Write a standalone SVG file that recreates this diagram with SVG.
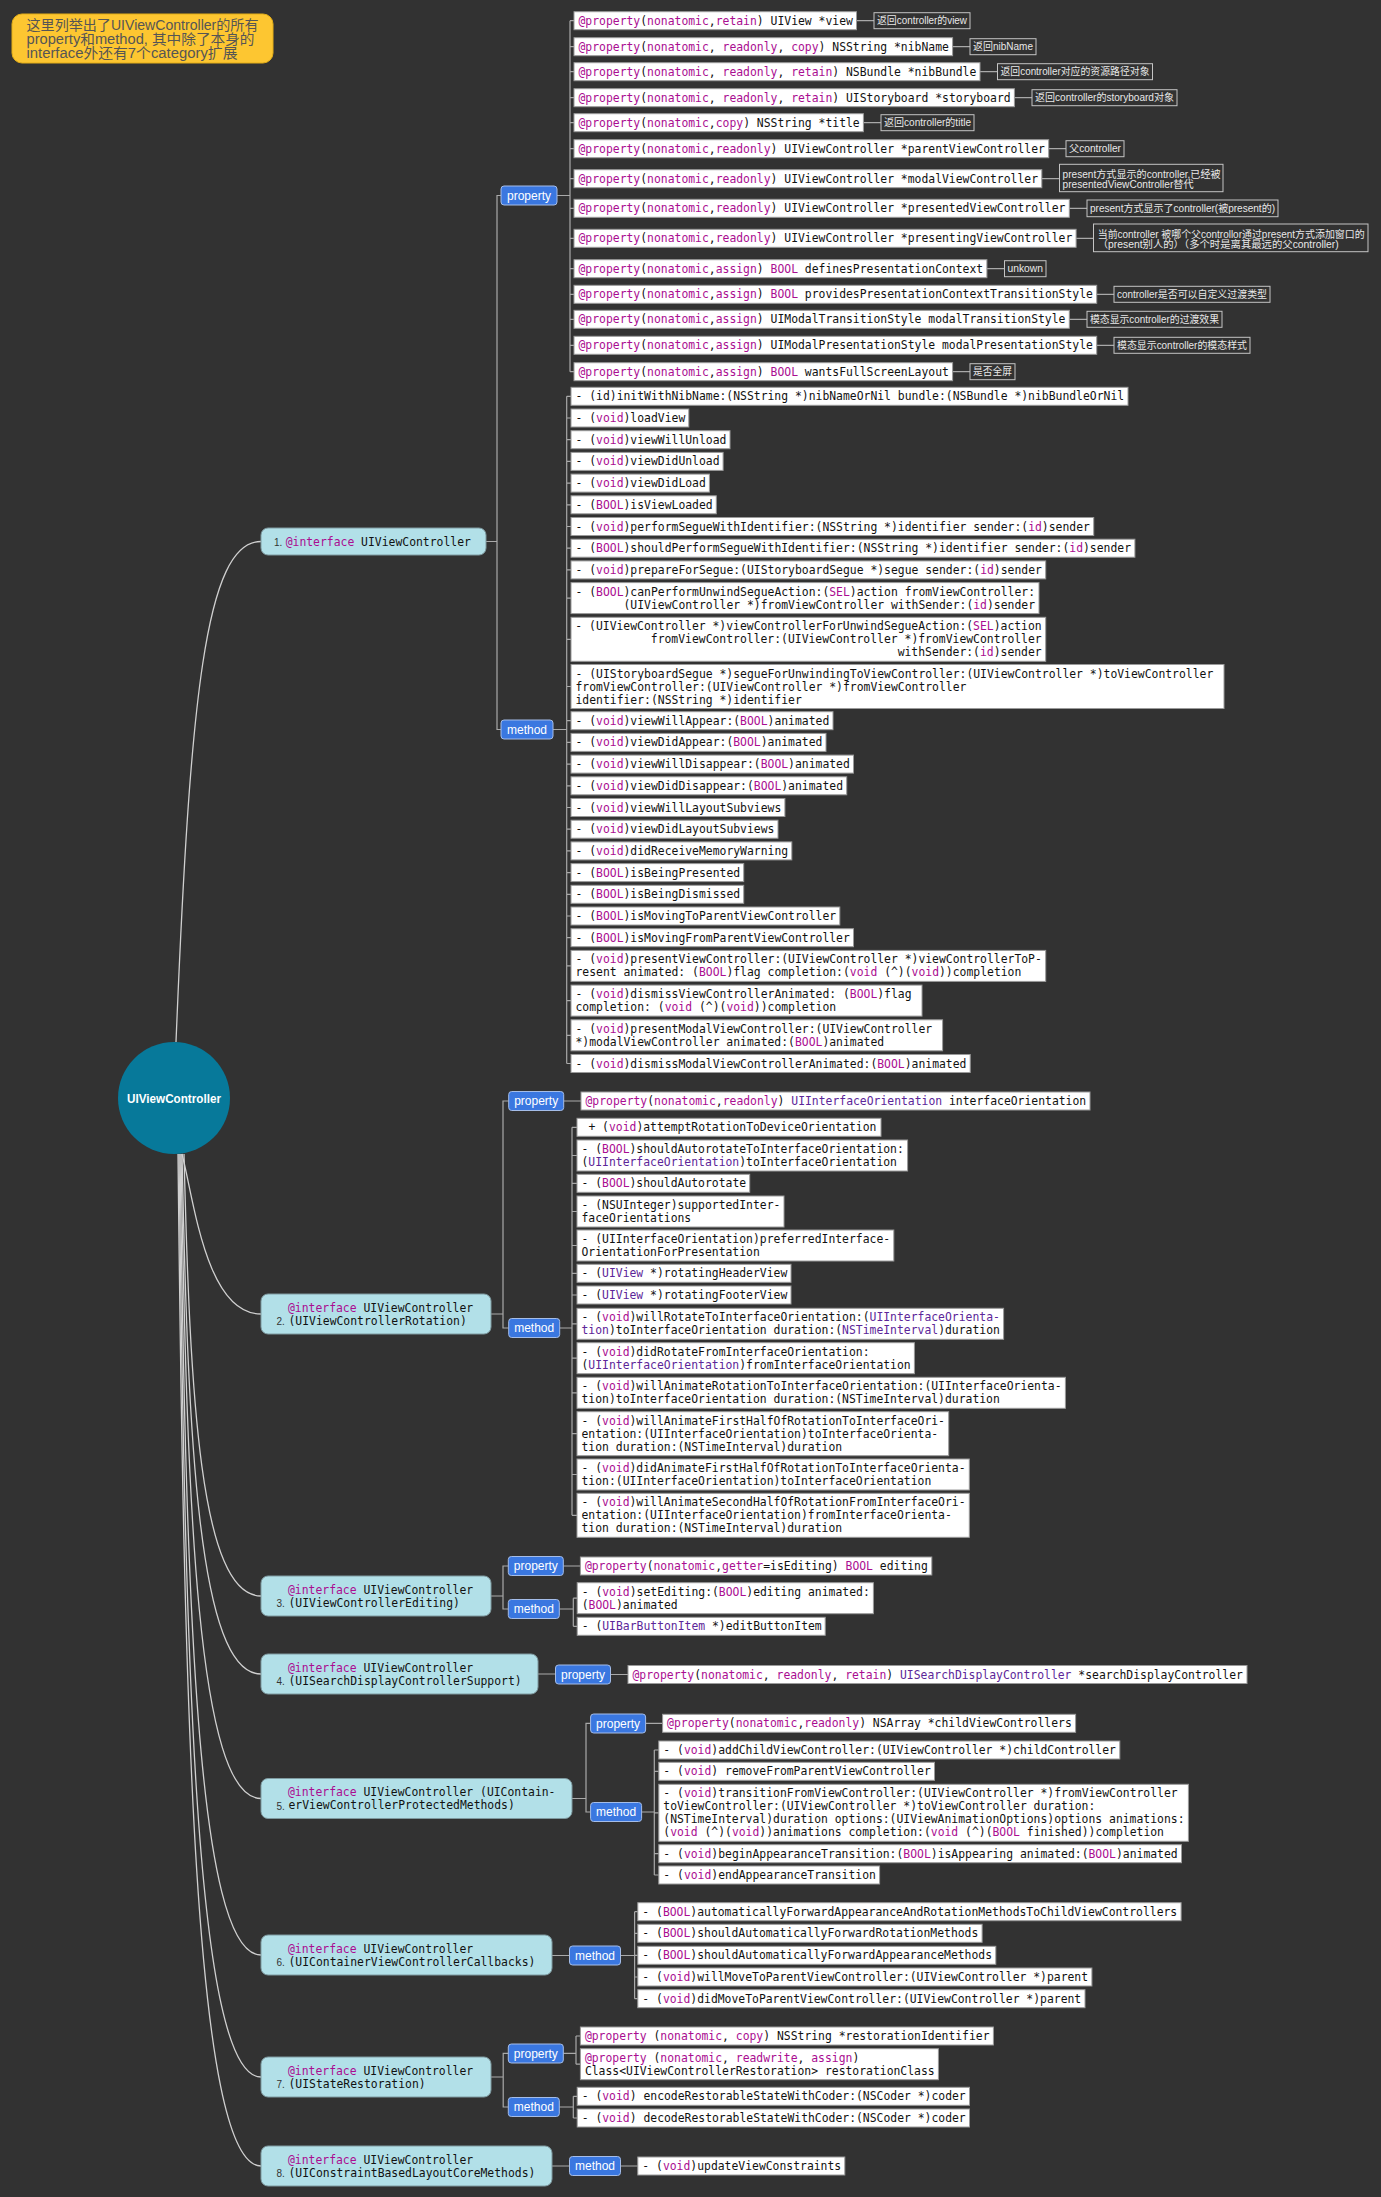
<svg xmlns="http://www.w3.org/2000/svg" width="1381" height="2197" viewBox="0 0 1381 2197">
<style>
.c{font-family:"DejaVu Sans Mono","Liberation Mono",monospace;font-size:11.4px;fill:#111}
.k{fill:#aa0d91}
.t{fill:#5c2699}
.b{fill:#fff;stroke:#9a9a9a;stroke-width:1}
.ar{fill:none;stroke:#c4c4c4;stroke-width:1}
.at{font-family:"Liberation Sans","Noto Sans CJK SC",sans-serif;font-size:10px;fill:#e8e8e8}
.tag{fill:#3a77e0;stroke:#a5bde8;stroke-width:1}
.tt{font-family:"Liberation Sans",sans-serif;font-size:12px;fill:#fff;text-anchor:middle}
.if{fill:#b2e0e8;stroke:#7f9aa0;stroke-width:1}
.num{font-family:"Liberation Sans",sans-serif;font-size:10px;fill:#333}
.ln{fill:none;stroke:#a9a9a9;stroke-width:1.2}
.cv{fill:none;stroke:#d0d0d0;stroke-width:1.3}
</style>
<rect x="0" y="0" width="1381" height="2197" fill="#323232"/>

<g id="connectors">
<path class="cv" d="M176 1042 C190 700 205 541.5 261 541.5"/>
<path class="cv" d="M182 1154 C194 1200 206 1314 261 1314"/>
<path class="cv" d="M184 1154 C190 1397 200 1596 261 1596"/>
<path class="cv" d="M182 1154 C188 1440 198 1674 261 1674"/>
<path class="cv" d="M181 1154 C187 1508 197 1798.5 261 1798.5"/>
<path class="cv" d="M180 1154 C186 1595 196 1955 261 1955"/>
<path class="cv" d="M179 1154 C185 1662 195 2077 261 2077"/>
<path class="cv" d="M178 1154 C184 1711 194 2166 261 2166"/>
<!-- section 1 -->
<path class="ln" d="M486 541.5 H497 M501 195.5 H497 V729.5 H501"/>
<path class="ln" d="M557 195.5 H570 M570 20.7 V371.7 M570 20.7 H574 M570 46.7 H574 M570 71.7 H574 M570 97.7 H574 M570 122.7 H574 M570 148.7 H574 M570 178.7 H574 M570 208.3 H574 M570 238.3 H574 M570 268.7 H574 M570 294.3 H574 M570 319.3 H574 M570 345.3 H574 M570 371.7 H574"/>
<path class="ln" d="M856.5 20.7 H874 M952.6 46.7 H970 M980 71.7 H997.5 M1014.4 97.7 H1032 M863.4 122.7 H881 M1048.7 148.7 H1066 M1041.8 178.7 H1059.5 M1069.3 208.3 H1087 M1076.1 238.3 H1093.5 M986.9 268.7 H1004.5 M1096.7 294.3 H1114 M1069.3 319.3 H1087 M1096.7 345.3 H1114 M952.6 371.7 H970"/>
<path class="ln" d="M553 729.5 H566.7 M566.7 396.3 V1063.5 M566.7 396.3 H571 M566.7 418 H571 M566.7 439.7 H571 M566.7 461.4 H571 M566.7 483.1 H571 M566.7 504.8 H571 M566.7 526.5 H571 M566.7 548.2 H571 M566.7 569.9 H571 M566.7 598.1 H571 M566.7 639.3 H571 M566.7 686.5 H571 M566.7 720.7 H571 M566.7 742.4 H571 M566.7 764.1 H571 M566.7 785.8 H571 M566.7 807.5 H571 M566.7 829.2 H571 M566.7 850.9 H571 M566.7 872.6 H571 M566.7 894.3 H571 M566.7 916 H571 M566.7 937.7 H571 M566.7 965.9 H571 M566.7 1000.6 H571 M566.7 1035.3 H571 M566.7 1063.5 H571"/>
<!-- section 2 -->
<path class="ln" d="M491 1314 H503 M508.7 1101 H503 V1328 H508.7 M563.7 1101 H581"/>
<path class="ln" d="M559.7 1328 H572 M572 1127.3 V1515.3 M572 1127.3 H577 M572 1155.5 H577 M572 1183.3 H577 M572 1211.5 H577 M572 1245.5 H577 M572 1273.3 H577 M572 1295 H577 M572 1323.8 H577 M572 1358.2 H577 M572 1392.8 H577 M572 1433.7 H577 M572 1474.5 H577 M572 1515.3 H577"/>
<!-- section 3 -->
<path class="ln" d="M491 1596 H503 M508.3 1566 H503 V1609 H508.3 M563.3 1566 H580.4 M559.3 1609 H573.3 M573.3 1598.2 V1626.3 M573.3 1598.2 H577.2 M573.3 1626.3 H577.2"/>
<!-- section 4 -->
<path class="ln" d="M538 1674 H555.5 M610.5 1674.5 H628"/>
<!-- section 5 -->
<path class="ln" d="M572 1798.5 H586 M590.6 1723.3 H586 V1812 H590.6 M645.6 1723.3 H662.6 M641.6 1812 H654.3 M654.3 1750 V1875 M654.3 1750 H658.8 M654.3 1771.3 H658.8 M654.3 1812.8 H658.8 M654.3 1853.7 H658.8 M654.3 1875 H658.8"/>
<!-- section 6 -->
<path class="ln" d="M551.7 1955.5 H569.5 M620.5 1955.5 H634.6 M634.6 1911.7 V1998.7 M634.6 1911.7 H637.8 M634.6 1933.3 H637.8 M634.6 1955.3 H637.8 M634.6 1977 H637.8 M634.6 1998.7 H637.8"/>
<!-- section 7 -->
<path class="ln" d="M491 2077 H503.2 M508.3 2053.3 H503.2 V2107 H508.3 M563.3 2053.3 H576 M576 2036 V2064.2 M576 2036 H580.4 M576 2064.2 H580.4 M559.3 2107 H573.3 M573.3 2096.3 V2118 M573.3 2096.3 H577.2 M573.3 2118 H577.2"/>
<!-- section 8 -->
<path class="ln" d="M551.7 2166 H569.5 M620.5 2166 H637.8"/>
</g>

<g id="note">
<rect x="12" y="14" width="261" height="49" rx="10" fill="#fdc631" stroke="#e2ad18"/>
<text font-family="Liberation Sans,Noto Sans CJK SC,sans-serif" font-size="14" fill="#555">
<tspan x="26.5" y="29.5" textLength="232" lengthAdjust="spacingAndGlyphs">这里列举出了UIViewController的所有</tspan>
<tspan x="26.5" y="43.5" textLength="228" lengthAdjust="spacingAndGlyphs">property和method, 其中除了本身的</tspan>
<tspan x="26.5" y="57.5" textLength="211" lengthAdjust="spacingAndGlyphs">interface外还有7个category扩展</tspan>
</text>
</g>

<g id="root">
<circle cx="174" cy="1098" r="56" fill="#07799a"/>
<text x="174" y="1102.5" font-family="Liberation Sans,sans-serif" font-size="12.5" font-weight="bold" fill="#fff" text-anchor="middle" textLength="94" lengthAdjust="spacingAndGlyphs">UIViewController</text>
</g>

<!-- interface nodes -->
<g id="iface1"><rect class="if" x="261" y="528" width="225" height="27" rx="7"/><text class="num" x="274" y="545.5">1.</text><text class="c" x="285.7" y="545.5"><tspan class="k">@interface</tspan> UIViewController</text></g>
<g id="iface2"><rect class="if" x="261" y="1294" width="230" height="40" rx="7"/><text class="c" x="288" y="1311.5"><tspan class="k">@interface</tspan> UIViewController</text><text class="num" x="276.5" y="1325">2.</text><text class="c" x="288.5" y="1324.5">(UIViewControllerRotation)</text></g>
<g id="iface3"><rect class="if" x="261" y="1576" width="230" height="40" rx="7"/><text class="c" x="288" y="1593.5"><tspan class="k">@interface</tspan> UIViewController</text><text class="num" x="276.5" y="1607">3.</text><text class="c" x="288.5" y="1606.5">(UIViewControllerEditing)</text></g>
<g id="iface4"><rect class="if" x="261" y="1654" width="277" height="40" rx="7"/><text class="c" x="288" y="1671.5"><tspan class="k">@interface</tspan> UIViewController</text><text class="num" x="276.5" y="1685">4.</text><text class="c" x="288.5" y="1684.5">(UISearchDisplayControllerSupport)</text></g>
<g id="iface5"><rect class="if" x="261" y="1778.5" width="311" height="40" rx="7"/><text class="c" x="288" y="1796"><tspan class="k">@interface</tspan> UIViewController (UIContain-</text><text class="num" x="276.5" y="1809.5">5.</text><text class="c" x="288.5" y="1809">erViewControllerProtectedMethods)</text></g>
<g id="iface6"><rect class="if" x="261" y="1935" width="291" height="40" rx="7"/><text class="c" x="288" y="1952.5"><tspan class="k">@interface</tspan> UIViewController</text><text class="num" x="276.5" y="1966">6.</text><text class="c" x="288.5" y="1965.5">(UIContainerViewControllerCallbacks)</text></g>
<g id="iface7"><rect class="if" x="261" y="2057" width="230" height="40" rx="7"/><text class="c" x="288" y="2074.5"><tspan class="k">@interface</tspan> UIViewController</text><text class="num" x="276.5" y="2088">7.</text><text class="c" x="288.5" y="2087.5">(UIStateRestoration)</text></g>
<g id="iface8"><rect class="if" x="261" y="2146" width="291" height="40" rx="7"/><text class="c" x="288" y="2163.5"><tspan class="k">@interface</tspan> UIViewController</text><text class="num" x="276.5" y="2177">8.</text><text class="c" x="288.5" y="2176.5">(UIConstraintBasedLayoutCoreMethods)</text></g>

<!-- tags -->
<g id="tag1p"><rect class="tag" x="501" y="186" width="56" height="19" rx="3"/><text class="tt" x="529" y="199.5">property</text></g>
<g id="tag1m"><rect class="tag" x="501" y="720" width="52" height="19" rx="3"/><text class="tt" x="527" y="733.5">method</text></g>
<g id="tag2p"><rect class="tag" x="508.7" y="1091.5" width="55" height="19" rx="3"/><text class="tt" x="536.2" y="1105">property</text></g>
<g id="tag2m"><rect class="tag" x="508.7" y="1318.5" width="51" height="19" rx="3"/><text class="tt" x="534.2" y="1332">method</text></g>
<g id="tag3p"><rect class="tag" x="508.3" y="1556.5" width="55" height="19" rx="3"/><text class="tt" x="535.8" y="1570">property</text></g>
<g id="tag3m"><rect class="tag" x="508.3" y="1599.5" width="51" height="19" rx="3"/><text class="tt" x="533.8" y="1613">method</text></g>
<g id="tag4p"><rect class="tag" x="555.5" y="1665" width="55" height="19" rx="3"/><text class="tt" x="583" y="1678.5">property</text></g>
<g id="tag5p"><rect class="tag" x="590.6" y="1714" width="55" height="19" rx="3"/><text class="tt" x="618.1" y="1727.5">property</text></g>
<g id="tag5m"><rect class="tag" x="590.6" y="1802.5" width="51" height="19" rx="3"/><text class="tt" x="616.1" y="1816">method</text></g>
<g id="tag6m"><rect class="tag" x="569.5" y="1946" width="51" height="19" rx="3"/><text class="tt" x="595" y="1959.5">method</text></g>
<g id="tag7p"><rect class="tag" x="508.3" y="2044" width="55" height="19" rx="3"/><text class="tt" x="535.8" y="2057.5">property</text></g>
<g id="tag7m"><rect class="tag" x="508.3" y="2097.5" width="51" height="19" rx="3"/><text class="tt" x="533.8" y="2111">method</text></g>
<g id="tag8m"><rect class="tag" x="569.5" y="2156.5" width="51" height="19" rx="3"/><text class="tt" x="595" y="2170">method</text></g>

<!-- section 1 properties -->
<g id="p1_1"><rect class="b" x="574" y="11.7" width="282.5" height="18"/><text class="c" x="578.5" y="24.7"><tspan class="k">@property</tspan>(<tspan class="k">nonatomic</tspan>,<tspan class="k">retain</tspan>) UIView *view</text><rect class="ar" x="874" y="12.7" width="96" height="16"/><text class="at" x="877" y="24.2" textLength="90" lengthAdjust="spacingAndGlyphs">返回controller的view</text></g>
<g id="p1_2"><rect class="b" x="574" y="37.7" width="378.6" height="18"/><text class="c" x="578.5" y="50.7"><tspan class="k">@property</tspan>(<tspan class="k">nonatomic</tspan>, <tspan class="k">readonly</tspan>, <tspan class="k">copy</tspan>) NSString *nibName</text><rect class="ar" x="970" y="38.7" width="66" height="16"/><text class="at" x="973" y="50.2" textLength="60" lengthAdjust="spacingAndGlyphs">返回nibName</text></g>
<g id="p1_3"><rect class="b" x="574" y="62.7" width="406" height="18"/><text class="c" x="578.5" y="75.7"><tspan class="k">@property</tspan>(<tspan class="k">nonatomic</tspan>, <tspan class="k">readonly</tspan>, <tspan class="k">retain</tspan>) NSBundle *nibBundle</text><rect class="ar" x="997.5" y="63.7" width="155" height="16"/><text class="at" x="1000.5" y="75.2" textLength="149" lengthAdjust="spacingAndGlyphs">返回controller对应的资源路径对象</text></g>
<g id="p1_4"><rect class="b" x="574" y="88.7" width="440.4" height="18"/><text class="c" x="578.5" y="101.7"><tspan class="k">@property</tspan>(<tspan class="k">nonatomic</tspan>, <tspan class="k">readonly</tspan>, <tspan class="k">retain</tspan>) UIStoryboard *storyboard</text><rect class="ar" x="1032" y="89.7" width="145" height="16"/><text class="at" x="1035" y="101.2" textLength="139" lengthAdjust="spacingAndGlyphs">返回controller的storyboard对象</text></g>
<g id="p1_5"><rect class="b" x="574" y="113.7" width="289.4" height="18"/><text class="c" x="578.5" y="126.7"><tspan class="k">@property</tspan>(<tspan class="k">nonatomic</tspan>,<tspan class="k">copy</tspan>) NSString *title</text><rect class="ar" x="881" y="114.7" width="93" height="16"/><text class="at" x="884" y="126.2" textLength="87" lengthAdjust="spacingAndGlyphs">返回controller的title</text></g>
<g id="p1_6"><rect class="b" x="574" y="139.7" width="474.7" height="18"/><text class="c" x="578.5" y="152.7"><tspan class="k">@property</tspan>(<tspan class="k">nonatomic</tspan>,<tspan class="k">readonly</tspan>) UIViewController *parentViewController</text><rect class="ar" x="1066" y="140.7" width="58" height="16"/><text class="at" x="1069" y="152.2" textLength="52" lengthAdjust="spacingAndGlyphs">父controller</text></g>
<g id="p1_7"><rect class="b" x="574" y="169.7" width="467.8" height="18"/><text class="c" x="578.5" y="182.7"><tspan class="k">@property</tspan>(<tspan class="k">nonatomic</tspan>,<tspan class="k">readonly</tspan>) UIViewController *modalViewController</text><rect class="ar" x="1059.5" y="164.3" width="163.5" height="27.4"/><text class="at" x="1062.6" y="177.5" textLength="158" lengthAdjust="spacingAndGlyphs">present方式显示的controller,已经被</text><text class="at" x="1062.6" y="188.2" textLength="131" lengthAdjust="spacingAndGlyphs">presentedViewController替代</text></g>
<g id="p1_8"><rect class="b" x="574" y="199.3" width="495.3" height="18"/><text class="c" x="578.5" y="212.3"><tspan class="k">@property</tspan>(<tspan class="k">nonatomic</tspan>,<tspan class="k">readonly</tspan>) UIViewController *presentedViewController</text><rect class="ar" x="1087" y="200" width="191" height="16.7"/><text class="at" x="1090" y="211.8" textLength="185" lengthAdjust="spacingAndGlyphs">present方式显示了controller(被present的)</text></g>
<g id="p1_9"><rect class="b" x="574" y="229.3" width="502.1" height="18"/><text class="c" x="578.5" y="242.3"><tspan class="k">@property</tspan>(<tspan class="k">nonatomic</tspan>,<tspan class="k">readonly</tspan>) UIViewController *presentingViewController</text><rect class="ar" x="1093.5" y="224" width="274.5" height="27.7"/><text class="at" x="1097.7" y="237.5" textLength="267" lengthAdjust="spacingAndGlyphs">当前controller 被哪个父controllor通过present方式添加窗口的</text><text class="at" x="1097.7" y="248.2" textLength="241" lengthAdjust="spacingAndGlyphs">（present别人的）（多个时是离其最远的父controller)</text></g>
<g id="p1_10"><rect class="b" x="574" y="259.7" width="412.9" height="18"/><text class="c" x="578.5" y="272.7"><tspan class="k">@property</tspan>(<tspan class="k">nonatomic</tspan>,<tspan class="k">assign</tspan>) <tspan class="k">BOOL</tspan> definesPresentationContext</text><rect class="ar" x="1004.5" y="260.7" width="41.5" height="16"/><text class="at" x="1007.5" y="272.2" textLength="35.5" lengthAdjust="spacingAndGlyphs">unkown</text></g>
<g id="p1_11"><rect class="b" x="574" y="285.3" width="522.7" height="18"/><text class="c" x="578.5" y="298.3"><tspan class="k">@property</tspan>(<tspan class="k">nonatomic</tspan>,<tspan class="k">assign</tspan>) <tspan class="k">BOOL</tspan> providesPresentationContextTransitionStyle</text><rect class="ar" x="1114" y="286.3" width="156" height="16"/><text class="at" x="1117" y="297.8" textLength="150" lengthAdjust="spacingAndGlyphs">controller是否可以自定义过渡类型</text></g>
<g id="p1_12"><rect class="b" x="574" y="310.3" width="495.3" height="18"/><text class="c" x="578.5" y="323.3"><tspan class="k">@property</tspan>(<tspan class="k">nonatomic</tspan>,<tspan class="k">assign</tspan>) UIModalTransitionStyle modalTransitionStyle</text><rect class="ar" x="1087" y="311.3" width="135" height="16"/><text class="at" x="1090" y="322.8" textLength="129" lengthAdjust="spacingAndGlyphs">模态显示controller的过渡效果</text></g>
<g id="p1_13"><rect class="b" x="574" y="336.3" width="522.7" height="18"/><text class="c" x="578.5" y="349.3"><tspan class="k">@property</tspan>(<tspan class="k">nonatomic</tspan>,<tspan class="k">assign</tspan>) UIModalPresentationStyle modalPresentationStyle</text><rect class="ar" x="1114" y="337.3" width="136" height="16"/><text class="at" x="1117" y="348.8" textLength="130" lengthAdjust="spacingAndGlyphs">模态显示controller的模态样式</text></g>
<g id="p1_14"><rect class="b" x="574" y="362.7" width="378.6" height="18"/><text class="c" x="578.5" y="375.7"><tspan class="k">@property</tspan>(<tspan class="k">nonatomic</tspan>,<tspan class="k">assign</tspan>) <tspan class="k">BOOL</tspan> wantsFullScreenLayout</text><rect class="ar" x="970" y="363.7" width="45" height="16"/><text class="at" x="973" y="375.2" textLength="39" lengthAdjust="spacingAndGlyphs">是否全屏</text></g>

<!-- section 1 methods -->
<g id="m1_1"><rect class="b" x="571" y="387.3" width="557" height="18"/><text class="c" x="575.5" y="400.3">- (id)initWithNibName:(NSString *)nibNameOrNil bundle:(NSBundle *)nibBundleOrNil</text></g>
<g id="m1_2"><rect class="b" x="571" y="409" width="117.8" height="18"/><text class="c" x="575.5" y="422">- (<tspan class="k">void</tspan>)loadView</text></g>
<g id="m1_3"><rect class="b" x="571" y="430.7" width="159" height="18"/><text class="c" x="575.5" y="443.7">- (<tspan class="k">void</tspan>)viewWillUnload</text></g>
<g id="m1_4"><rect class="b" x="571" y="452.4" width="152.1" height="18"/><text class="c" x="575.5" y="465.4">- (<tspan class="k">void</tspan>)viewDidUnload</text></g>
<g id="m1_5"><rect class="b" x="571" y="474.1" width="138.4" height="18"/><text class="c" x="575.5" y="487.1">- (<tspan class="k">void</tspan>)viewDidLoad</text></g>
<g id="m1_6"><rect class="b" x="571" y="495.8" width="145.3" height="18"/><text class="c" x="575.5" y="508.8">- (<tspan class="k">BOOL</tspan>)isViewLoaded</text></g>
<g id="m1_7"><rect class="b" x="571" y="517.5" width="522.7" height="18"/><text class="c" x="575.5" y="530.5">- (<tspan class="k">void</tspan>)performSegueWithIdentifier:(NSString *)identifier sender:(<tspan class="k">id</tspan>)sender</text></g>
<g id="m1_8"><rect class="b" x="571" y="539.2" width="563.9" height="18"/><text class="c" x="575.5" y="552.2">- (<tspan class="k">BOOL</tspan>)shouldPerformSegueWithIdentifier:(NSString *)identifier sender:(<tspan class="k">id</tspan>)sender</text></g>
<g id="m1_9"><rect class="b" x="571" y="560.9" width="474.7" height="18"/><text class="c" x="575.5" y="573.9">- (<tspan class="k">void</tspan>)prepareForSegue:(UIStoryboardSegue *)segue sender:(<tspan class="k">id</tspan>)sender</text></g>
<g id="m1_10"><rect class="b" x="571" y="582.6" width="468" height="31"/><text class="c" x="1035" y="595.6" text-anchor="end">- (<tspan class="k">BOOL</tspan>)canPerformUnwindSegueAction:(<tspan class="k">SEL</tspan>)action fromViewController:</text><text class="c" x="1035" y="608.6" text-anchor="end">(UIViewController *)fromViewController withSender:(<tspan class="k">id</tspan>)sender</text></g>
<g id="m1_11"><rect class="b" x="571" y="617.3" width="474.7" height="44"/><text class="c" x="1041.7" y="630.3" text-anchor="end">- (UIViewController *)viewControllerForUnwindSegueAction:(<tspan class="k">SEL</tspan>)action</text><text class="c" x="1041.7" y="643.3" text-anchor="end">fromViewController:(UIViewController *)fromViewController</text><text class="c" x="1041.7" y="656.3" text-anchor="end">withSender:(<tspan class="k">id</tspan>)sender</text></g>
<g id="m1_12"><rect class="b" x="571" y="664.5" width="653" height="44"/><text class="c" x="575.5" y="677.5">- (UIStoryboardSegue *)segueForUnwindingToViewController:(UIViewController *)toViewController</text><text class="c" x="575.5" y="690.5">fromViewController:(UIViewController *)fromViewController</text><text class="c" x="575.5" y="703.5">identifier:(NSString *)identifier</text></g>
<g id="m1_13"><rect class="b" x="571" y="711.7" width="262" height="18"/><text class="c" x="575.5" y="724.7">- (<tspan class="k">void</tspan>)viewWillAppear:(<tspan class="k">BOOL</tspan>)animated</text></g>
<g id="m1_14"><rect class="b" x="571" y="733.4" width="255" height="18"/><text class="c" x="575.5" y="746.4">- (<tspan class="k">void</tspan>)viewDidAppear:(<tspan class="k">BOOL</tspan>)animated</text></g>
<g id="m1_15"><rect class="b" x="571" y="755.1" width="282.5" height="18"/><text class="c" x="575.5" y="768.1">- (<tspan class="k">void</tspan>)viewWillDisappear:(<tspan class="k">BOOL</tspan>)animated</text></g>
<g id="m1_16"><rect class="b" x="571" y="776.8" width="275.7" height="18"/><text class="c" x="575.5" y="789.8">- (<tspan class="k">void</tspan>)viewDidDisappear:(<tspan class="k">BOOL</tspan>)animated</text></g>
<g id="m1_17"><rect class="b" x="571" y="798.5" width="213.9" height="18"/><text class="c" x="575.5" y="811.5">- (<tspan class="k">void</tspan>)viewWillLayoutSubviews</text></g>
<g id="m1_18"><rect class="b" x="571" y="820.2" width="207" height="18"/><text class="c" x="575.5" y="833.2">- (<tspan class="k">void</tspan>)viewDidLayoutSubviews</text></g>
<g id="m1_19"><rect class="b" x="571" y="841.9" width="220.8" height="18"/><text class="c" x="575.5" y="854.9">- (<tspan class="k">void</tspan>)didReceiveMemoryWarning</text></g>
<g id="m1_20"><rect class="b" x="571" y="863.6" width="172.7" height="18"/><text class="c" x="575.5" y="876.6">- (<tspan class="k">BOOL</tspan>)isBeingPresented</text></g>
<g id="m1_21"><rect class="b" x="571" y="885.3" width="172.7" height="18"/><text class="c" x="575.5" y="898.3">- (<tspan class="k">BOOL</tspan>)isBeingDismissed</text></g>
<g id="m1_22"><rect class="b" x="571" y="907" width="268.8" height="18"/><text class="c" x="575.5" y="920">- (<tspan class="k">BOOL</tspan>)isMovingToParentViewController</text></g>
<g id="m1_23"><rect class="b" x="571" y="928.7" width="282.5" height="18"/><text class="c" x="575.5" y="941.7">- (<tspan class="k">BOOL</tspan>)isMovingFromParentViewController</text></g>
<g id="m1_24"><rect class="b" x="571" y="950.4" width="474.7" height="31"/><text class="c" x="575.5" y="963.4">- (<tspan class="k">void</tspan>)presentViewController:(UIViewController *)viewControllerToP-</text><text class="c" x="575.5" y="976.4">resent animated: (<tspan class="k">BOOL</tspan>)flag completion:(<tspan class="k">void</tspan> (^)(<tspan class="k">void</tspan>))completion</text></g>
<g id="m1_25"><rect class="b" x="571" y="985.1" width="351" height="31"/><text class="c" x="575.5" y="998.1">- (<tspan class="k">void</tspan>)dismissViewControllerAnimated: (<tspan class="k">BOOL</tspan>)flag</text><text class="c" x="575.5" y="1011.1">completion: (<tspan class="k">void</tspan> (^)(<tspan class="k">void</tspan>))completion</text></g>
<g id="m1_26"><rect class="b" x="571" y="1019.8" width="371.6" height="31"/><text class="c" x="575.5" y="1032.8">- (<tspan class="k">void</tspan>)presentModalViewController:(UIViewController</text><text class="c" x="575.5" y="1045.8">*)modalViewController animated:(<tspan class="k">BOOL</tspan>)animated</text></g>
<g id="m1_27"><rect class="b" x="571" y="1054.5" width="399.2" height="18"/><text class="c" x="575.5" y="1067.5">- (<tspan class="k">void</tspan>)dismissModalViewControllerAnimated:(<tspan class="k">BOOL</tspan>)animated</text></g>

<!-- section 2 -->
<g id="p2_1"><rect class="b" x="581" y="1092" width="509" height="18"/><text class="c" x="585.5" y="1105"><tspan class="k">@property</tspan>(<tspan class="k">nonatomic</tspan>,<tspan class="k">readonly</tspan>) <tspan class="t">UIInterfaceOrientation</tspan> interfaceOrientation</text></g>
<g id="m2_1"><rect class="b" x="577" y="1118.3" width="304" height="18"/><text class="c" x="588.4" y="1131.3">+ (<tspan class="k">void</tspan>)attemptRotationToDeviceOrientation</text></g>
<g id="m2_2"><rect class="b" x="577" y="1140" width="330.6" height="31"/><text class="c" x="581.5" y="1153">- (<tspan class="k">BOOL</tspan>)shouldAutorotateToInterfaceOrientation:</text><text class="c" x="581.5" y="1166">(<tspan class="t">UIInterfaceOrientation</tspan>)toInterfaceOrientation</text></g>
<g id="m2_3"><rect class="b" x="577" y="1174.3" width="172.7" height="18"/><text class="c" x="581.5" y="1187.3">- (<tspan class="k">BOOL</tspan>)shouldAutorotate</text></g>
<g id="m2_4"><rect class="b" x="577" y="1196" width="207" height="31"/><text class="c" x="581.5" y="1209">- (NSUInteger)supportedInter-</text><text class="c" x="581.5" y="1222">faceOrientations</text></g>
<g id="m2_5"><rect class="b" x="577" y="1230" width="316.8" height="31"/><text class="c" x="581.5" y="1243">- (UIInterfaceOrientation)preferredInterface-</text><text class="c" x="581.5" y="1256">OrientationForPresentation</text></g>
<g id="m2_6"><rect class="b" x="577" y="1264.3" width="214" height="18"/><text class="c" x="581.5" y="1277.3">- (<tspan class="t">UIView</tspan> *)rotatingHeaderView</text></g>
<g id="m2_7"><rect class="b" x="577" y="1286" width="214" height="18"/><text class="c" x="581.5" y="1299">- (<tspan class="t">UIView</tspan> *)rotatingFooterView</text></g>
<g id="m2_8"><rect class="b" x="577" y="1308.3" width="426.6" height="31"/><text class="c" x="581.5" y="1321.3">- (<tspan class="k">void</tspan>)willRotateToInterfaceOrientation:(<tspan class="t">UIInterfaceOrienta-</tspan></text><text class="c" x="581.5" y="1334.3"><tspan class="t">tion</tspan>)toInterfaceOrientation duration:(<tspan class="t">NSTimeInterval</tspan>)duration</text></g>
<g id="m2_9"><rect class="b" x="577" y="1342.7" width="337.4" height="31"/><text class="c" x="581.5" y="1355.7">- (<tspan class="k">void</tspan>)didRotateFromInterfaceOrientation:</text><text class="c" x="581.5" y="1368.7">(<tspan class="t">UIInterfaceOrientation</tspan>)fromInterfaceOrientation</text></g>
<g id="m2_10"><rect class="b" x="577" y="1377.3" width="488.4" height="31"/><text class="c" x="581.5" y="1390.3">- (<tspan class="k">void</tspan>)willAnimateRotationToInterfaceOrientation:(UIInterfaceOrienta-</text><text class="c" x="581.5" y="1403.3">tion)toInterfaceOrientation duration:(NSTimeInterval)duration</text></g>
<g id="m2_11"><rect class="b" x="577" y="1411.7" width="371.7" height="44"/><text class="c" x="581.5" y="1424.7">- (<tspan class="k">void</tspan>)willAnimateFirstHalfOfRotationToInterfaceOri-</text><text class="c" x="581.5" y="1437.7">entation:(UIInterfaceOrientation)toInterfaceOrienta-</text><text class="c" x="581.5" y="1450.7">tion duration:(NSTimeInterval)duration</text></g>
<g id="m2_12"><rect class="b" x="577" y="1459" width="392.3" height="31"/><text class="c" x="581.5" y="1472">- (<tspan class="k">void</tspan>)didAnimateFirstHalfOfRotationToInterfaceOrienta-</text><text class="c" x="581.5" y="1485">tion:(UIInterfaceOrientation)toInterfaceOrientation</text></g>
<g id="m2_13"><rect class="b" x="577" y="1493.3" width="392.3" height="44"/><text class="c" x="581.5" y="1506.3">- (<tspan class="k">void</tspan>)willAnimateSecondHalfOfRotationFromInterfaceOri-</text><text class="c" x="581.5" y="1519.3">entation:(UIInterfaceOrientation)fromInterfaceOrienta-</text><text class="c" x="581.5" y="1532.3">tion duration:(NSTimeInterval)duration</text></g>

<!-- section 3 -->
<g id="p3_1"><rect class="b" x="580.4" y="1557" width="351.4" height="18"/><text class="c" x="584.9" y="1570"><tspan class="k">@property</tspan>(<tspan class="k">nonatomic</tspan>,<tspan class="k">getter</tspan>=isEditing) <tspan class="k">BOOL</tspan> editing</text></g>
<g id="m3_1"><rect class="b" x="577.2" y="1582.7" width="296.2" height="31"/><text class="c" x="581.7" y="1595.7">- (<tspan class="k">void</tspan>)setEditing:(<tspan class="k">BOOL</tspan>)editing animated:</text><text class="c" x="581.7" y="1608.7">(<tspan class="k">BOOL</tspan>)animated</text></g>
<g id="m3_2"><rect class="b" x="577.2" y="1617.3" width="248" height="18"/><text class="c" x="581.7" y="1630.3">- (<tspan class="t">UIBarButtonItem</tspan> *)editButtonItem</text></g>

<!-- section 4 -->
<g id="p4_1"><rect class="b" x="628" y="1665.5" width="619" height="18"/><text class="c" x="632.5" y="1678.5"><tspan class="k">@property</tspan>(<tspan class="k">nonatomic</tspan>, <tspan class="k">readonly</tspan>, <tspan class="k">retain</tspan>) <tspan class="t">UISearchDisplayController</tspan> *searchDisplayController</text></g>

<!-- section 5 -->
<g id="p5_1"><rect class="b" x="662.6" y="1714.3" width="413" height="18"/><text class="c" x="667.1" y="1727.3"><tspan class="k">@property</tspan>(<tspan class="k">nonatomic</tspan>,<tspan class="k">readonly</tspan>) NSArray *childViewControllers</text></g>
<g id="m5_1"><rect class="b" x="658.8" y="1741" width="461" height="18"/><text class="c" x="663.3" y="1754">- (<tspan class="k">void</tspan>)addChildViewController:(UIViewController *)childController</text></g>
<g id="m5_2"><rect class="b" x="658.8" y="1762.3" width="275.7" height="18"/><text class="c" x="663.3" y="1775.3">- (<tspan class="k">void</tspan>) removeFromParentViewController</text></g>
<g id="m5_3"><rect class="b" x="658.8" y="1784.3" width="529.6" height="57"/><text class="c" x="663.3" y="1797.3">- (<tspan class="k">void</tspan>)transitionFromViewController:(UIViewController *)fromViewController</text><text class="c" x="663.3" y="1810.3">toViewController:(UIViewController *)toViewController duration:</text><text class="c" x="663.3" y="1823.3">(NSTimeInterval)duration options:(UIViewAnimationOptions)options animations:</text><text class="c" x="663.3" y="1836.3">(<tspan class="k">void</tspan> (^)(<tspan class="k">void</tspan>))animations completion:(<tspan class="k">void</tspan> (^)(<tspan class="k">BOOL</tspan> finished))completion</text></g>
<g id="m5_4"><rect class="b" x="658.8" y="1844.7" width="522.7" height="18"/><text class="c" x="663.3" y="1857.7">- (<tspan class="k">void</tspan>)beginAppearanceTransition:(<tspan class="k">BOOL</tspan>)isAppearing animated:(<tspan class="k">BOOL</tspan>)animated</text></g>
<g id="m5_5"><rect class="b" x="658.8" y="1866" width="220.8" height="18"/><text class="c" x="663.3" y="1879">- (<tspan class="k">void</tspan>)endAppearanceTransition</text></g>

<!-- section 6 -->
<g id="m6_1"><rect class="b" x="637.8" y="1902.7" width="543.3" height="18"/><text class="c" x="642.3" y="1915.7">- (<tspan class="k">BOOL</tspan>)automaticallyForwardAppearanceAndRotationMethodsToChildViewControllers</text></g>
<g id="m6_2"><rect class="b" x="637.8" y="1924.3" width="344.3" height="18"/><text class="c" x="642.3" y="1937.3">- (<tspan class="k">BOOL</tspan>)shouldAutomaticallyForwardRotationMethods</text></g>
<g id="m6_3"><rect class="b" x="637.8" y="1946.3" width="358" height="18"/><text class="c" x="642.3" y="1959.3">- (<tspan class="k">BOOL</tspan>)shouldAutomaticallyForwardAppearanceMethods</text></g>
<g id="m6_4"><rect class="b" x="637.8" y="1968" width="454.1" height="18"/><text class="c" x="642.3" y="1981">- (<tspan class="k">void</tspan>)willMoveToParentViewController:(UIViewController *)parent</text></g>
<g id="m6_5"><rect class="b" x="637.8" y="1989.7" width="447.2" height="18"/><text class="c" x="642.3" y="2002.7">- (<tspan class="k">void</tspan>)didMoveToParentViewController:(UIViewController *)parent</text></g>

<!-- section 7 -->
<g id="p7_1"><rect class="b" x="580.4" y="2027" width="413" height="18"/><text class="c" x="584.9" y="2040"><tspan class="k">@property</tspan> (<tspan class="k">nonatomic</tspan>, <tspan class="k">copy</tspan>) NSString *restorationIdentifier</text></g>
<g id="p7_2"><rect class="b" x="580.4" y="2048.7" width="358" height="31"/><text class="c" x="584.9" y="2061.7"><tspan class="k">@property</tspan> (<tspan class="k">nonatomic</tspan>, <tspan class="k">readwrite</tspan>, <tspan class="k">assign</tspan>)</text><text class="c" x="584.9" y="2074.7">Class&lt;UIViewControllerRestoration&gt; restorationClass</text></g>
<g id="m7_1"><rect class="b" x="577.2" y="2087.3" width="392.3" height="18"/><text class="c" x="581.7" y="2100.3">- (<tspan class="k">void</tspan>) encodeRestorableStateWithCoder:(NSCoder *)coder</text></g>
<g id="m7_2"><rect class="b" x="577.2" y="2109" width="392.3" height="18"/><text class="c" x="581.7" y="2122">- (<tspan class="k">void</tspan>) decodeRestorableStateWithCoder:(NSCoder *)coder</text></g>

<!-- section 8 -->
<g id="m8_1"><rect class="b" x="637.8" y="2157" width="207" height="18"/><text class="c" x="642.3" y="2170">- (<tspan class="k">void</tspan>)updateViewConstraints</text></g>
</svg>
